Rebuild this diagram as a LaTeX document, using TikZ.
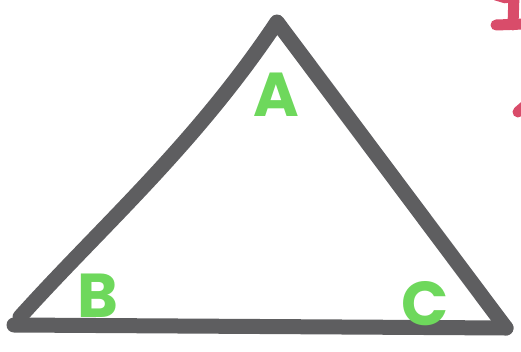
\documentclass[tikz,border=0pt]{standalone}
\usepackage{fontspec}
\setmainfont{Poppins}
\definecolor{pen}{HTML}{5E5E60}
\definecolor{lbl}{HTML}{6ED85C}
\definecolor{rd}{HTML}{D94C6A}
\begin{document}
\begin{tikzpicture}[x=1pt,y=-1pt,
  edge/.style={draw=pen,line width=15pt,line cap=round,line join=round},
  lettr/.style={text=lbl,font=\fontsize{62}{62}\selectfont\bfseries,inner sep=0pt},
  redmark/.style={draw=rd,line width=11pt,line cap=round}]
\useasboundingbox (0,0) rectangle (521,352);
\coordinate (top) at (277,22);
\coordinate (bl) at (20,317);
\coordinate (br) at (506,328);
\coordinate (bl2) at (14,325);
\draw[edge] (bl) .. controls (100,228) and (195,145) .. (top) -- (br);
\draw[edge] (bl2) -- (br);
\node[lettr] (A) at (276,95) {A};
\node[lettr] (B) at (98,296) {B};
\node[lettr] (C) at (425,304) {C};
\draw[redmark] (496,25) -- (525,24);
\draw[redmark] (514,-5) -- (513,25);
\draw[redmark] (496,-5) -- (506,-2);
\draw[redmark] (518,112) -- (525,106);
\end{tikzpicture}
\end{document}
